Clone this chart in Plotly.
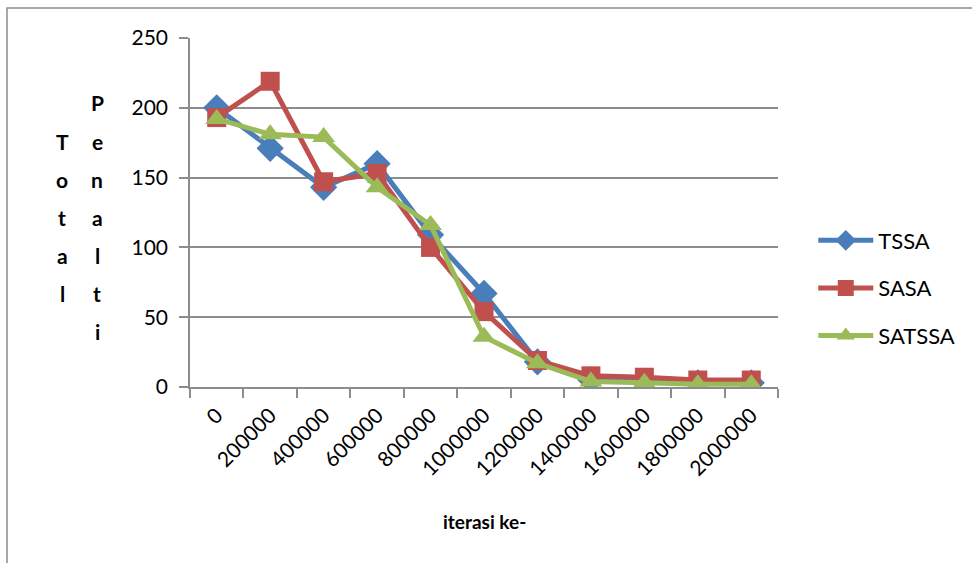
import plotly.graph_objects as go

# Iteration checkpoints (category axis)
iterations = ["0", "200000", "400000", "600000", "800000", "1000000",
              "1200000", "1400000", "1600000", "1800000", "2000000"]

# Total penalty per algorithm
tssa = [200, 171, 143, 160, 109, 67, 18, 5, 4, 3, 3]
sasa = [193, 219, 147, 153, 100, 54, 19, 8, 7, 5, 5]
satssa = [192, 181, 179, 143, 116, 36, 17, 4, 3, 2, 2]

series = [
    ("TSSA", tssa, "#4A7EBB", "diamond", 21),
    ("SASA", sasa, "#C0504D", "square", 19),
    ("SATSSA", satssa, "#9BBB59", "triangle-up", 20),
]

fig = go.Figure()
for name, vals, color, symbol, size in series:
    fig.add_trace(go.Scatter(
        x=iterations, y=vals, name=name, legendgroup=name,
        mode="lines+markers",
        line=dict(color=color, width=5),
        marker=dict(symbol=symbol, size=size, color=color),
    ))

font_family = "Lato, 'Open Sans', sans-serif"
grid = "#8C8C8C"

fig.update_layout(
    width=972, height=563,
    margin=dict(l=190, r=194, t=38, b=176),
    paper_bgcolor="white", plot_bgcolor="white",
    font=dict(family=font_family, color="black"),
    showlegend=True,
    legend=dict(x=1.06, y=(387 - 288) / 349, xanchor="left", yanchor="middle",
                font=dict(size=22), tracegroupgap=16, itemwidth=55,
                bgcolor="rgba(0,0,0,0)"),
)

fig.update_xaxes(
    type="category", tickson="boundaries", range=[-0.5, 10.5],
    showline=True, linecolor=grid, linewidth=1.5,
    ticks="outside", ticklen=9, tickcolor=grid, tickwidth=1.5,
    tickangle=-45, tickfont=dict(size=21), ticklabelstandoff=6,
    showgrid=False, zeroline=False,
)
fig.update_yaxes(
    range=[0, 250], dtick=50,
    showline=True, linecolor=grid, linewidth=1.5,
    ticks="outside", ticklen=9, tickcolor=grid, tickwidth=1.5,
    tickfont=dict(size=21), ticklabelstandoff=7,
    showgrid=True, gridcolor=grid, gridwidth=1.5, zeroline=False,
)

# x-axis title
fig.add_annotation(x=(485 - 190) / 588, y=(387 - 521) / 349,
                   xref="paper", yref="paper", text="<b>iterasi ke-</b>",
                   showarrow=False, font=dict(size=19, family=font_family),
                   xanchor="center", yanchor="middle")

# Vertical stacked axis title letters
def stacked(word, x_px, y_center_px, step=38):
    n = len(word)
    for i, ch in enumerate(word):
        py = y_center_px + (i - (n - 1) / 2) * step
        fig.add_annotation(
            x=(x_px - 190) / 588, y=(387 - py) / 349,
            xref="paper", yref="paper", text=f"<b>{ch}</b>",
            showarrow=False, font=dict(size=21, family=font_family),
            xanchor="center", yanchor="middle",
        )

stacked("Total", 62, 217)
stacked("Penalti", 97, 217)

# Chart frame
fig.add_shape(type="rect", xref="paper", yref="paper",
              x0=(7 - 190) / 588, x1=(990 - 190) / 588,
              y0=(387 - 590) / 349, y1=(387 - 8) / 349,
              line=dict(color="#8C8C8C", width=1.5), layer="below")

fig.write_html("out.html")
